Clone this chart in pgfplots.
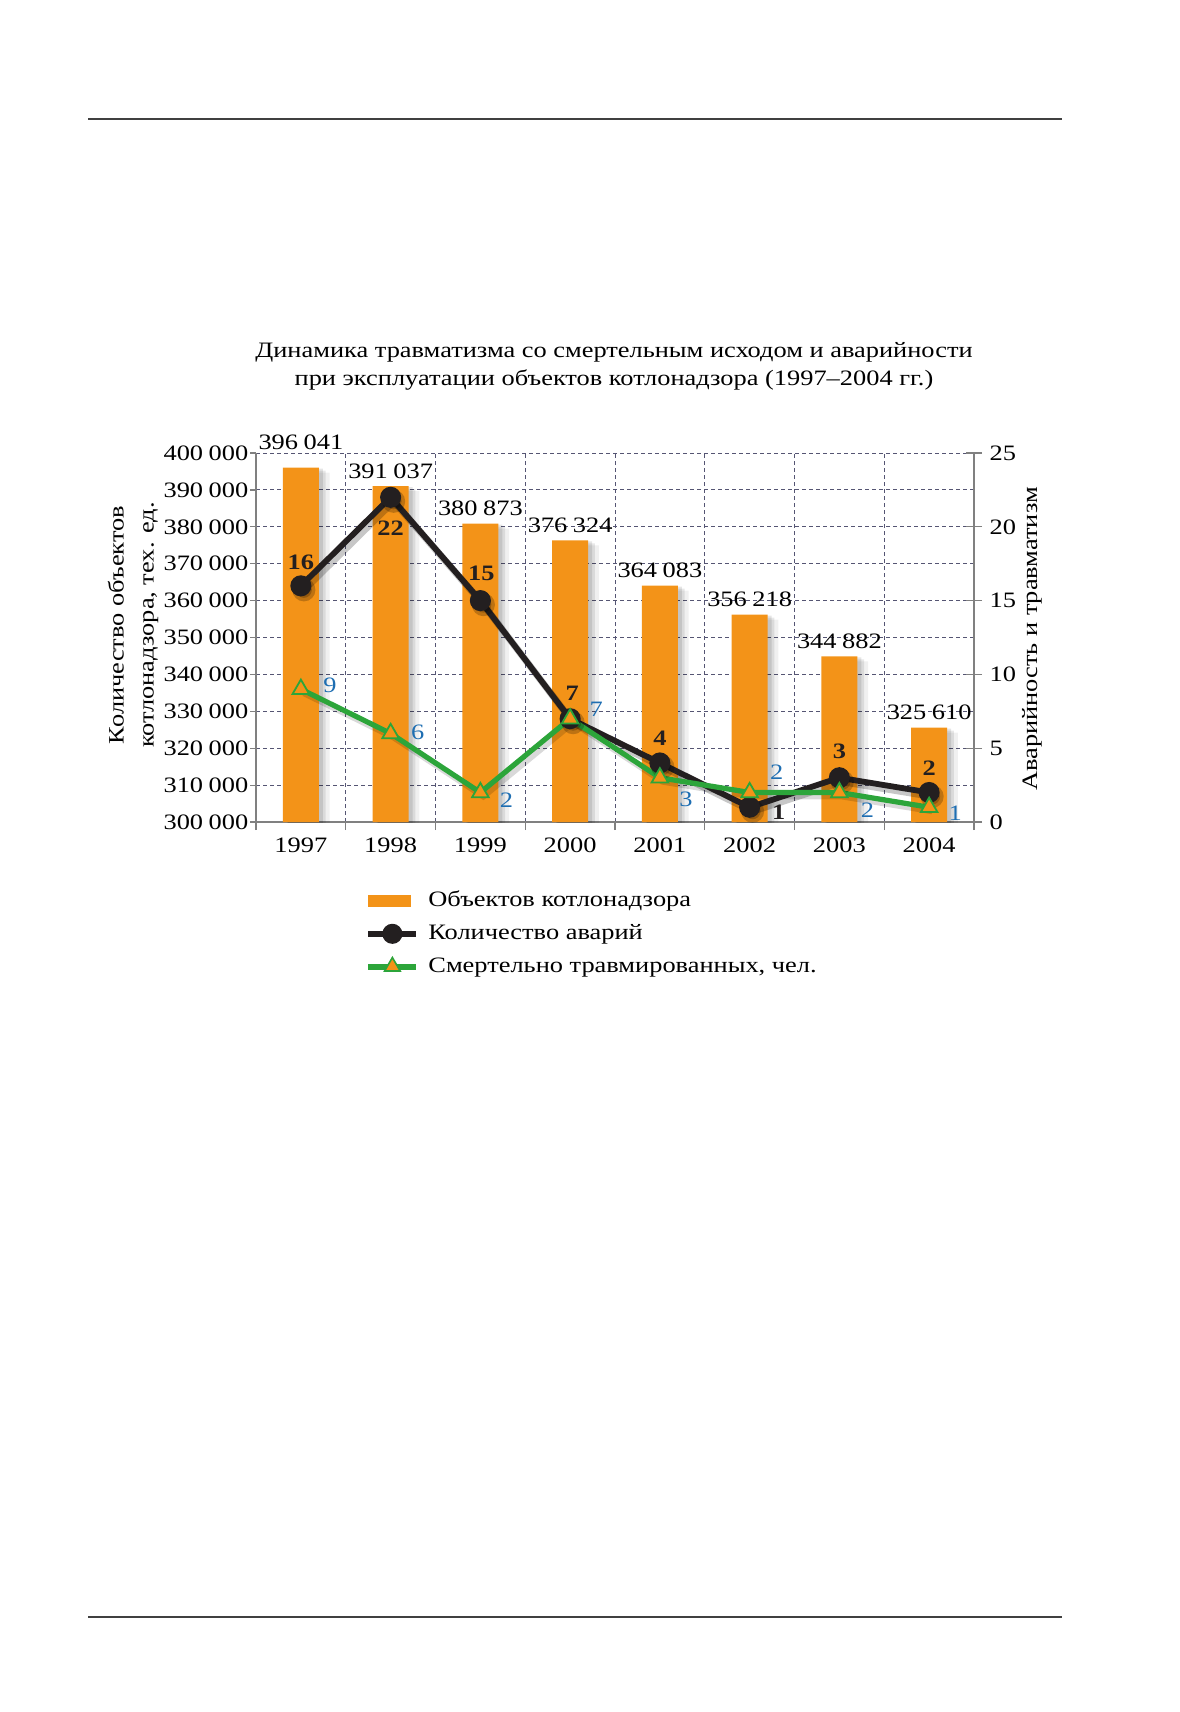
\documentclass[border=0pt]{standalone}
\usepackage{fontspec}
\setmainfont{Liberation Serif}[FakeStretch=1.2]
\usepackage{pgfplots}
\pgfplotsset{compat=1.18}
\usepackage{pgfplotstable}

\definecolor{barorange}{RGB}{243,147,24}
\definecolor{linedark}{RGB}{35,31,32}
\definecolor{linegreen}{RGB}{44,165,58}
\definecolor{lblblue}{RGB}{30,110,178}
\definecolor{gridc}{RGB}{85,85,115}
\definecolor{axisc}{RGB}{128,128,128}

\pgfkeys{/pgf/number format/assume math mode=true}
\pgfplotsset{
  barleg/.style={legend image code/.code={\fill[##1] (0pt,-3pt) rectangle (21.5pt,3pt);}},
  lineleg/.style={legend image code/.code={\draw[mark repeat=2, mark phase=2, ##1] plot coordinates {(0pt,0pt) (12pt,0pt) (24pt,0pt)};}},
}

\pgfplotstableread{
x val dy
0 396041 5
1 391037 0
2 380873 0
3 376324 0
4 364083 0
5 356218 0
6 344882 0
7 325610 0
}\bars

\pgfplotstableread{
x y dx dy
0 16 0 12
1 22 0 -15.5
2 15 0.5 13.5
3 7 1 12.5
4 4 0 12.5
5 1 14.5 -2.5
6 3 0 13
7 2 0 12
}\acc

\pgfplotstableread{
x y dx dy
0 9 14.5 2
1 6 13.5 0.5
2 2 13 -4
3 7 13 4.5
4 3 13 -11
5 2 13.5 10
6 2 14 -9
7 1 13 -3
}\inj

\begin{document}
\fontsize{11pt}{14pt}\selectfont
\begin{tikzpicture}[font=\fontsize{11pt}{14pt}\selectfont]
\path[use as bounding box] (0,0) rectangle (589.5pt,-856pt);
\draw[line width=0.8pt, draw=black!75] (44pt,-59.5pt) -- (531pt,-59.5pt);
\draw[line width=0.8pt, draw=black!75] (44pt,-808.5pt) -- (531pt,-808.5pt);

\node[align=center] at (307pt,-183pt) {Динамика травматизма со смертельным исходом и аварийности\\при эксплуатации объектов котлонадзора (1997--2004 гг.)};
\node[rotate=90, align=center] at (66.5pt,-312.5pt) {Количество объектов\\[1pt]котлонадзора, тех. ед.};
\node[rotate=90] at (516pt,-319.5pt) {Аварийность и травматизм};

\begin{axis}[
  at={(128pt,-411pt)}, anchor=south west,
  scale only axis, width=359pt, height=184.5pt,
  xmin=-0.5, xmax=7.5, ymin=300000, ymax=400000,
  axis y line*=left, axis x line*=bottom,
  axis line style={draw=axisc, line width=0.6pt, -},
  xtick={0,...,7}, xticklabels={1997,1998,1999,2000,2001,2002,2003,2004},
  major x tick style={draw=none},
  minor xtick={-0.5,0.5,...,7.5},
  xminorgrids=true, xmajorgrids=false,
  ytick={300000,310000,...,400000},
  ymajorgrids=true,
  major grid style={draw=gridc, line width=0.5pt, dash pattern=on 2pt off 1.5pt},
  minor grid style={draw=gridc, line width=0.5pt, dash pattern=on 2pt off 1.5pt},
  tick style={draw=axisc, line width=0.6pt},
  tick align=outside,
  major tick length=3pt, minor tick length=4pt,
  scaled y ticks=false,
  yticklabel style={xshift=3pt, /pgf/number format/.cd, fixed, precision=0, 1000 sep={\hspace{0.25em}}, assume math mode=true},
  xticklabel style={yshift=-1pt},
]
% soft shadows of the bars
\addplot[forget plot, ybar, bar width=0.46, bar shift=4pt, fill=black, opacity=0.06, draw=none, yshift=-2.5pt] table[x=x, y=val] {\bars};
\addplot[forget plot, ybar, bar width=0.42, bar shift=3pt, fill=black, opacity=0.09, draw=none, yshift=-1.5pt] table[x=x, y=val] {\bars};
\addplot[forget plot, ybar, bar width=0.4, bar shift=2pt, fill=black, opacity=0.10, draw=none, yshift=-0.5pt] table[x=x, y=val] {\bars};
\addplot[ybar, bar width=0.4, fill=barorange, draw=none,
  point meta=explicit symbolic,
  nodes near coords={\pgfmathprintnumber[fixed, precision=0, 1000 sep={\hspace{0.25em}}, assume math mode=true]{\pgfplotspointmeta}},
  visualization depends on={\thisrow{dy} \as \dy},
  every node near coord/.append style={yshift=\dy pt, text=black}]
  table[x=x, y=val, meta=val] {\bars};
\end{axis}

\begin{axis}[
  at={(128pt,-411pt)}, anchor=south west,
  scale only axis, width=359pt, height=184.5pt,
  xmin=-0.5, xmax=7.5, ymin=0, ymax=25,
  axis y line*=right, axis x line=none,
  axis line style={draw=axisc, line width=0.6pt, -},
  ytick={0,5,...,25},
  tick style={draw=axisc, line width=0.6pt},
  tick align=center, major tick length=8pt,
  legend cell align=left,
  legend style={at={(0.1518,-0.175)}, anchor=north west, draw=none, fill=none, inner sep=0pt, row sep=3.3pt,
    nodes={inner xsep=4.5pt}},
]
\addlegendimage{barleg, fill=barorange, draw=none}
\addlegendimage{lineleg, linedark, line width=3pt, mark=*, mark size=3.5pt}
\addlegendimage{lineleg, linegreen, line width=3pt, mark=triangle*, mark size=4.5pt, mark options={fill=barorange, draw=linegreen, line width=0.8pt}}
\legend{Объектов котлонадзора, Количество аварий, {Смертельно травмированных, чел.}}

% shadows
\addplot[forget plot, draw=black, opacity=0.22, line width=3.5pt, xshift=1.5pt, yshift=-2pt, mark=*, mark size=4pt, mark options={fill=black}] table[x=x, y=y] {\acc};
\addplot[forget plot, draw=black, opacity=0.15, line width=3pt, xshift=1.5pt, yshift=-2pt] table[x=x, y=y] {\inj};

\addplot[forget plot, linedark, line width=2.9pt, mark=*, mark size=3.8pt,
  point meta=y, nodes near coords,
  visualization depends on={\thisrow{dx} \as \dx},
  visualization depends on={\thisrow{dy} \as \dy},
  every node near coord/.append style={anchor=center, font=\fontsize{11pt}{14pt}\selectfont\bfseries, text=linedark, xshift=\dx pt, yshift=\dy pt}]
  table[x=x, y=y] {\acc};
\addplot[forget plot, linegreen, line width=2.6pt, mark=triangle*, mark size=4.8pt,
  mark options={fill=barorange, draw=linegreen, line width=0.9pt},
  point meta=y, nodes near coords,
  visualization depends on={\thisrow{dx} \as \dx},
  visualization depends on={\thisrow{dy} \as \dy},
  every node near coord/.append style={anchor=center, text=lblblue, xshift=\dx pt, yshift=\dy pt}]
  table[x=x, y=y] {\inj};
\end{axis}
\end{tikzpicture}
\end{document}
